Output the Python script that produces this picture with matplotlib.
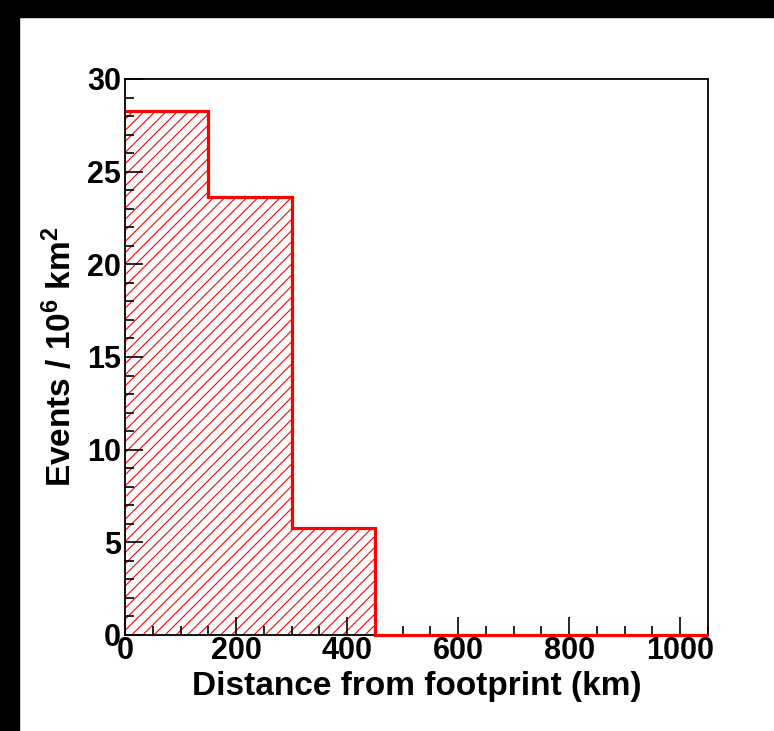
import matplotlib
matplotlib.use("Agg")
import matplotlib.pyplot as plt
import numpy as np
from matplotlib.patches import Rectangle
from matplotlib.ticker import MultipleLocator

bin_edges = [0, 150, 300, 450, 600, 750, 900, 1050]
counts = [28.3, 23.65, 5.75, 0.0, 0.0, 0.0, 0.0]
x_label = "Distance from footprint (km)"
y_label = r"Events / 10$^{\mathbf{6}}$ km$^{\mathbf{2}}$"

plt.rcParams['font.family'] = ['Liberation Sans', 'DejaVu Sans']
plt.rcParams['font.weight'] = 'bold'
plt.rcParams['mathtext.fontset'] = 'custom'
plt.rcParams['mathtext.rm'] = 'Liberation Sans:bold'
plt.rcParams['mathtext.bf'] = 'Liberation Sans:bold'
plt.rcParams['mathtext.it'] = 'Liberation Sans:bold'
plt.rcParams['hatch.linewidth'] = 0.8

W, H = 774, 731
fig = plt.figure(figsize=(W/100, H/100), dpi=100)
fig.patch.set_facecolor('white')
fig.patches.append(Rectangle((0, 0), 19/W, 1, transform=fig.transFigure, color='black', zorder=0))
fig.patches.append(Rectangle((0, 1-17/H), 1, 17/H, transform=fig.transFigure, color='black', zorder=0))

left, right, top, bottom = 125, 708, 79, 635
ax = fig.add_axes([left/W, 1-bottom/H, (right-left)/W, (bottom-top)/H])

edges = np.array(bin_edges)
ax.bar(edges[:-1], counts, width=np.diff(edges), align='edge', color='none',
       edgecolor='red', linewidth=0, hatch='///', zorder=1)
ax.stairs(counts, bin_edges, baseline=None, color='red', linewidth=2.3,
          zorder=3, clip_on=False)
ax.set_xlim(0, 1050)
ax.set_ylim(0, 30)

ax.xaxis.set_major_locator(MultipleLocator(200))
ax.xaxis.set_minor_locator(MultipleLocator(50))
ax.yaxis.set_major_locator(MultipleLocator(5))
ax.yaxis.set_minor_locator(MultipleLocator(1))
ax.tick_params(which='both', direction='in', top=False, right=False, width=1.2, color='black')
ax.tick_params(which='major', length=13, labelsize=22)
ax.tick_params(axis='x', which='major', pad=1)
ax.tick_params(axis='y', which='major', pad=3)
ax.tick_params(which='minor', length=6.5)
for s in ax.spines.values():
    s.set_linewidth(1.3)
for lab in ax.get_xticklabels() + ax.get_yticklabels():
    lab.set_fontweight('bold')

ax.set_xlabel(x_label, fontsize=24, fontweight='bold', labelpad=3)
ax.set_ylabel(y_label, fontsize=24, fontweight='bold', labelpad=6)

fig.savefig("out.png", dpi=100, facecolor='white')
